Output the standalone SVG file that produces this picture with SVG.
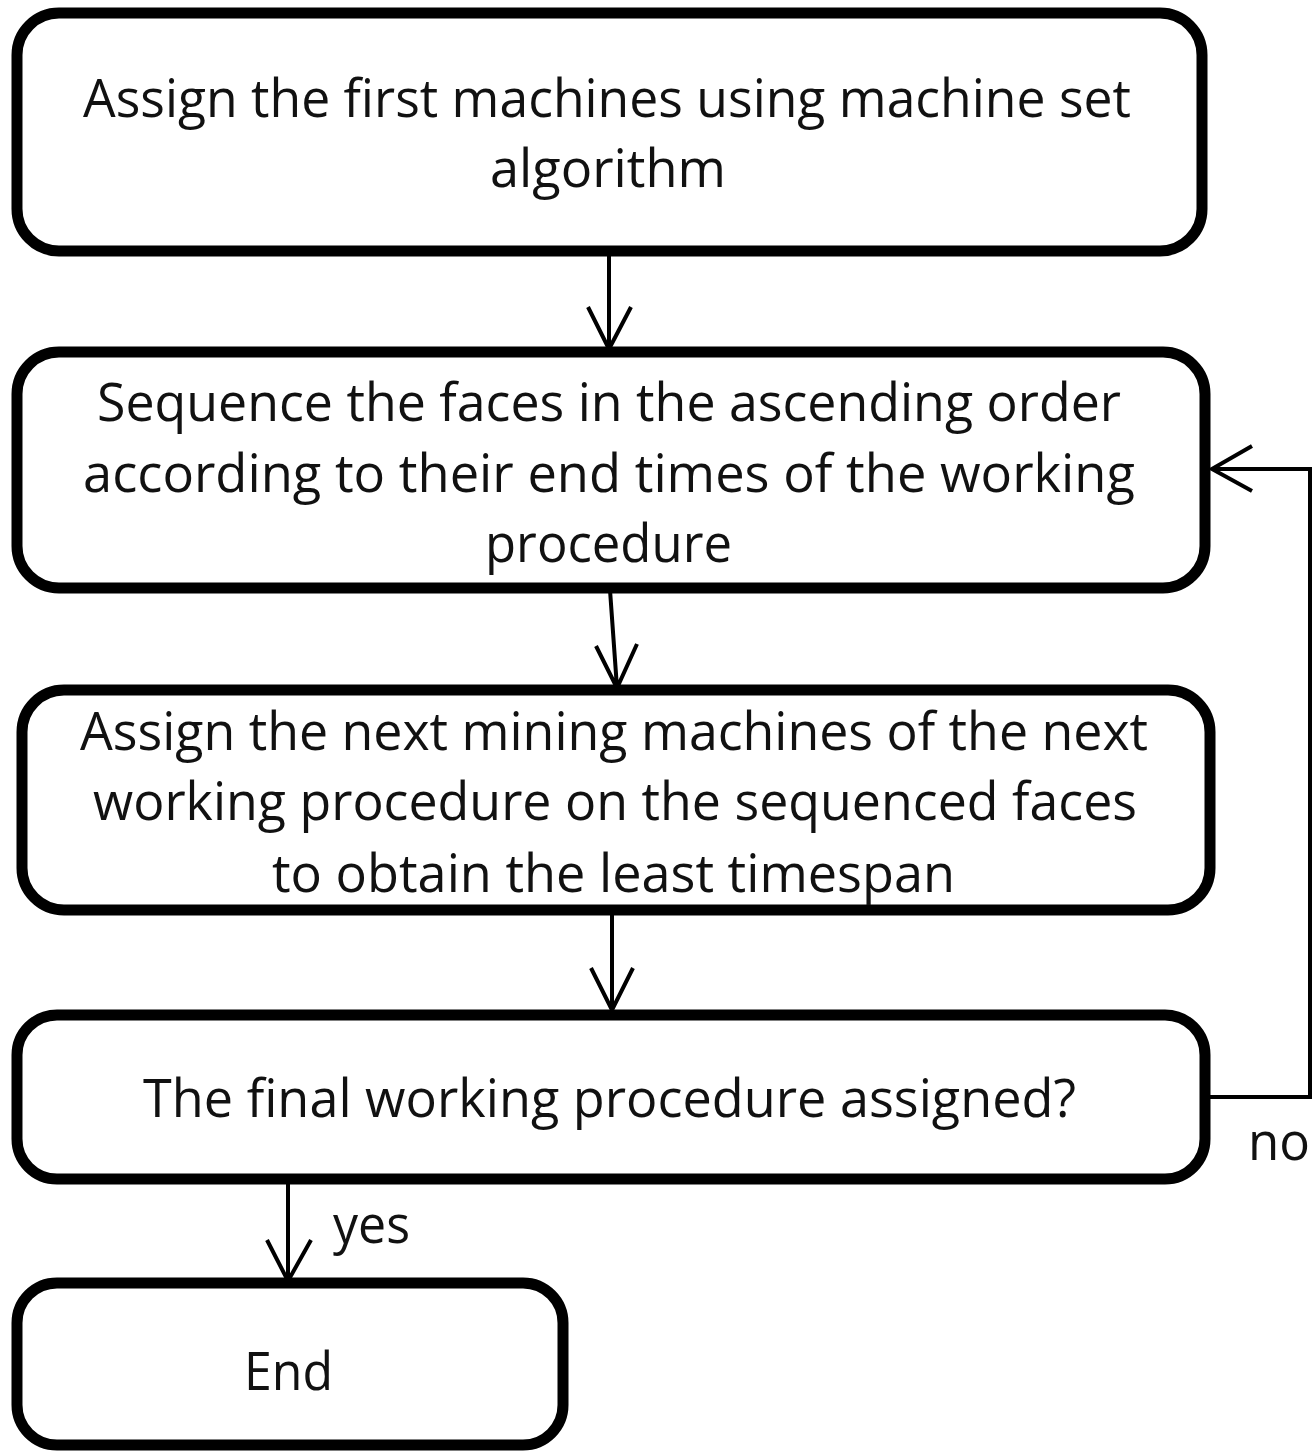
<svg xmlns="http://www.w3.org/2000/svg" width="1314" height="1454" viewBox="0 0 1314 1454">
<style>
.box{fill:#fff;stroke:#000;stroke-width:11}
.t{font-family:"Open Sans","Liberation Sans",sans-serif;font-size:53px;fill:#111}
.c{text-anchor:middle}
.ln{fill:none;stroke:#000;stroke-width:4}
</style>
<rect width="1314" height="1454" fill="#fff"/>
<g id="connectors">
<path class="ln" d="M609,252 L609,349 M588,307 L609,349 L631,307"/>
<path class="ln" d="M610,590 L617,688 M596,646 L617,688 L637,644"/>
<path class="ln" d="M612,912 L612,1010 M591,968 L612,1010 L633,968"/>
<path class="ln" d="M288,1182 L288,1281 M267,1240 L288,1281 L311,1240"/>
<path class="ln" d="M1207,1097 L1310,1097 L1310,469 L1212,469 M1252,446 L1212,469 L1252,491"/>
<text class="t" x="333" y="1243" textLength="77" lengthAdjust="spacingAndGlyphs">yes</text>
<text class="t" x="1248" y="1160" textLength="62" lengthAdjust="spacingAndGlyphs">no</text>
</g>
<g id="n1">
<rect class="box" x="17" y="13" width="1185" height="238" rx="42"/>
<text class="t" x="83" y="117" textLength="1048" lengthAdjust="spacingAndGlyphs">Assign the first machines using machine set</text>
<text class="t" x="490" y="187" textLength="236" lengthAdjust="spacingAndGlyphs">algorithm</text>
</g>
<g id="n2">
<rect class="box" x="17" y="352" width="1188" height="236" rx="42"/>
<text class="t" x="97" y="421" textLength="1024" lengthAdjust="spacingAndGlyphs">Sequence the faces in the ascending order</text>
<text class="t" x="83" y="492" textLength="1052" lengthAdjust="spacingAndGlyphs">according to their end times of the working</text>
<text class="t" x="485" y="562" textLength="247" lengthAdjust="spacingAndGlyphs">procedure</text>
</g>
<g id="n3">
<rect class="box" x="22" y="690" width="1188" height="220" rx="42"/>
<text class="t" x="80" y="750" textLength="1068" lengthAdjust="spacingAndGlyphs">Assign the next mining machines of the next</text>
<text class="t" x="93" y="820" textLength="1044" lengthAdjust="spacingAndGlyphs">working procedure on the sequenced faces</text>
<text class="t" x="272" y="892" textLength="683" lengthAdjust="spacingAndGlyphs">to obtain the least timespan</text>
</g>
<g id="n4">
<rect class="box" x="17" y="1015" width="1188" height="164" rx="40"/>
<text class="t" x="143" y="1117" textLength="933" lengthAdjust="spacingAndGlyphs">The final working procedure assigned?</text>
</g>
<g id="n5">
<rect class="box" x="17" y="1283" width="546" height="162" rx="40"/>
<text class="t" x="244" y="1390" textLength="89" lengthAdjust="spacingAndGlyphs">End</text>
</g>
</svg>
